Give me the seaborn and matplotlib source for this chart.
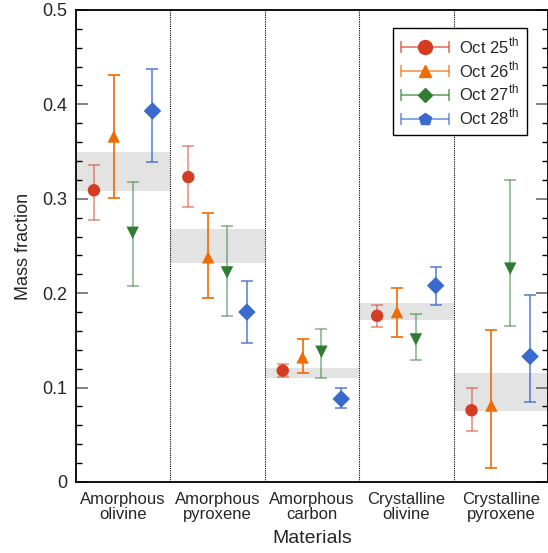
import numpy as np
import pandas as pd
import seaborn as sns
import matplotlib.pyplot as plt
from matplotlib.ticker import MultipleLocator
from matplotlib.container import ErrorbarContainer
from matplotlib.legend_handler import HandlerErrorbar

sns.set_theme(style='ticks')
plt.rcParams['font.family'] = ['Liberation Sans', 'DejaVu Sans']

materials = ['Amorphous\nolivine', 'Amorphous\npyroxene', 'Amorphous\ncarbon',
             'Crystalline\nolivine', 'Crystalline\npyroxene']
dates = ['Oct 25', 'Oct 26', 'Oct 27', 'Oct 28']

# mass fraction and error range per date
oct25 = [0.309, 0.323, 0.118, 0.176, 0.076]
oct25_lo = [0.277, 0.291, 0.111, 0.164, 0.054]
oct25_hi = [0.336, 0.356, 0.125, 0.187, 0.100]

oct26 = [0.366, 0.238, 0.132, 0.180, 0.081]
oct26_lo = [0.301, 0.195, 0.115, 0.154, 0.015]
oct26_hi = [0.431, 0.285, 0.151, 0.206, 0.161]

oct27 = [0.264, 0.222, 0.138, 0.151, 0.226]
oct27_lo = [0.208, 0.176, 0.110, 0.129, 0.165]
oct27_hi = [0.318, 0.271, 0.162, 0.178, 0.320]

oct28 = [0.393, 0.180, 0.088, 0.208, 0.133]
oct28_lo = [0.339, 0.147, 0.078, 0.188, 0.085]
oct28_hi = [0.437, 0.213, 0.100, 0.228, 0.198]

# grey bands (average range)
band_lo = [0.308, 0.232, 0.110, 0.172, 0.075]
band_hi = [0.350, 0.268, 0.121, 0.190, 0.115]

colors = ['#d43d22', '#ef6c00', '#2e7d32', '#3a6acd']
bar_alpha = [0.55, 1.0, 0.55, 0.8]
markers = ['o', '^', 'v', 'D']
legend_markers = ['o', '^', 'D', 'p']
legend_ms = [10, 9, 7.5, 9]
offsets = [-0.31, -0.1, 0.1, 0.31]

vals = [oct25, oct26, oct27, oct28]
los = [oct25_lo, oct26_lo, oct27_lo, oct28_lo]
his = [oct25_hi, oct26_hi, oct27_hi, oct28_hi]

rows = []
for d, v, lo, hi, off in zip(dates, vals, los, his, offsets):
    for i, m in enumerate(materials):
        rows.append({'date': d, 'x': i + off, 'y': v[i], 'lo': lo[i], 'hi': hi[i]})
df = pd.DataFrame(rows)

fig = plt.figure(figsize=(5.48, 5.53), dpi=100)
ax = fig.add_axes([0.1387, 0.1284, 0.8613, 0.8536])

# grey bands
for i in range(len(materials)):
    ax.fill_between([i - 0.5, i + 0.5], band_lo[i], band_hi[i], color='#e3e3e3', lw=0, zorder=0)

# dividers
for i in range(len(materials) - 1):
    ax.axvline(i + 0.5, color='black', ls=(0, (1, 1)), lw=0.8, zorder=1)

# error bars
for k, d in enumerate(dates):
    sub = df[df.date == d]
    ax.errorbar(sub.x, sub.y, yerr=[sub.y - sub.lo, sub.hi - sub.y], fmt='none',
                ecolor=colors[k], alpha=bar_alpha[k], elinewidth=1.2, capsize=4.5,
                capthick=1.2, zorder=2)

sns.scatterplot(data=df, x='x', y='y', hue='date', style='date', palette=colors,
                markers=dict(zip(dates, markers)), s=80, edgecolor='none',
                legend=False, ax=ax, zorder=3)

# legend proxies
handles = []
for k, d in enumerate(dates):
    h = ax.errorbar([np.nan], [np.nan], xerr=[[0], [0]], fmt=legend_markers[k],
                    color=colors[k], ms=legend_ms[k], ecolor=colors[k],
                    elinewidth=1.2, capsize=4, capthick=1.2)
    for c in h.lines[1] + h.lines[2]:
        c.set_alpha(0.7)
    handles.append(h)
leg = ax.legend(handles, [d + '$^{\\mathregular{th}}$' for d in dates],
                loc='upper right', bbox_to_anchor=(0.955, 0.962), borderaxespad=0,
                fontsize=12, frameon=True, fancybox=False, handlelength=2.9,
                handletextpad=0.6, borderpad=0.45, labelspacing=0.2,
                handler_map={ErrorbarContainer: HandlerErrorbar(xerr_size=1.45)})
leg.get_frame().set_edgecolor('black')
leg.get_frame().set_linewidth(1.0)
leg.get_frame().set_alpha(1)

ax.set_xlim(-0.5, 4.5)
ax.set_ylim(0, 0.5)
ax.set_xticks(range(len(materials)))
ax.set_xticklabels(materials, fontsize=12, linespacing=1.0)
ax.yaxis.set_minor_locator(MultipleLocator(0.02))
ax.set_yticks([0, 0.1, 0.2, 0.3, 0.4, 0.5])
ax.set_yticklabels(['0', '0.1', '0.2', '0.3', '0.4', '0.5'], fontsize=13)
ax.tick_params(axis='x', length=0, pad=7)
ax.tick_params(axis='y', which='major', direction='in', length=8.5, width=1.3,
               color='#777777', left=True, right=True, pad=6)
ax.tick_params(axis='y', which='minor', direction='in', length=4.5, width=1.0,
               color='black', left=True, right=True)
ax.set_xlabel('Materials', fontsize=14, labelpad=6)
ax.set_ylabel('Mass fraction', fontsize=13, labelpad=8)
for s in ax.spines.values():
    s.set_linewidth(1.3)
    s.set_color('black')

fig.savefig('out.png', dpi=100)
